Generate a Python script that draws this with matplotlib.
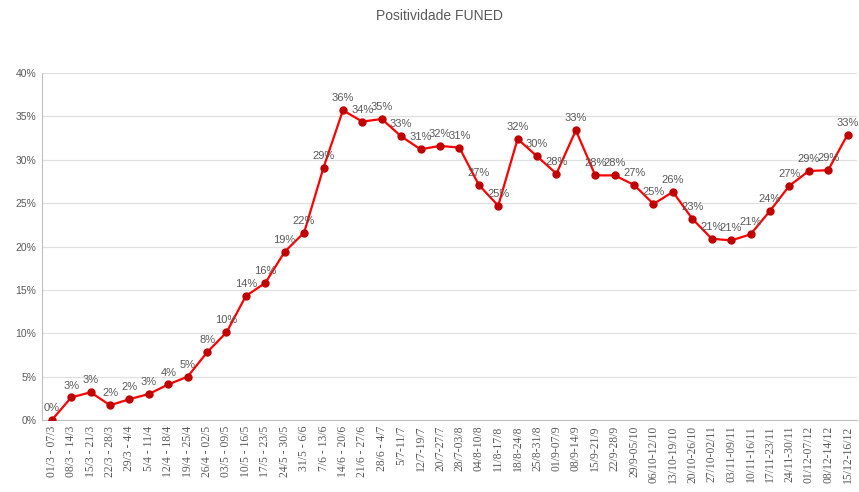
import matplotlib
matplotlib.use("Agg")
import matplotlib.pyplot as plt
from matplotlib.ticker import FuncFormatter, MultipleLocator

weeks = ["01/3 - 07/3", "08/3 - 14/3", "15/3 - 21/3", "22/3 - 28/3", "29/3 - 4/4",
         "5/4 - 11/4", "12/4 - 18/4", "19/4 - 25/4", "26/4 - 02/5", "03/5 - 09/5",
         "10/5 - 16/5", "17/5 - 23/5", "24/5 - 30/5", "31/5 - 6/6", "7/6 - 13/6",
         "14/6 - 20/6", "21/6 - 27/6", "28/6 - 4/7", "5/7-11/7", "12/7-19/7",
         "20/7-27/7", "28/7-03/8", "04/8-10/8", "11/8-17/8", "18/8-24/8",
         "25/8-31/8", "01/9-07/9", "08/9-14/9", "15/9-21/9", "22/9-28/9",
         "29/9-05/10", "06/10-12/10", "13/10-19/10", "20/10-26/10", "27/10-02/11",
         "03/11-09/11", "10/11-16/11", "17/11-23/11", "24/11-30/11", "01/12-07/12",
         "08/12-14/12", "15/12-16/12"]

positivity = [0.0, 2.6, 3.2, 1.7, 2.4, 3.0, 4.1, 5.0, 7.8, 10.1,
              14.3, 15.8, 19.4, 21.6, 29.1, 35.7, 34.4, 34.7, 32.7, 31.2,
              31.6, 31.4, 27.1, 24.7, 32.4, 30.4, 28.4, 33.4, 28.2, 28.2,
              27.1, 24.9, 26.3, 23.2, 20.9, 20.7, 21.4, 24.1, 27.0, 28.7,
              28.8, 32.9]

title = "Positividade FUNED"
text_color = "#595959"

fig = plt.figure(figsize=(8.59, 4.92), dpi=100)
ax = fig.add_axes([0.049, 0.1463, 0.949, 0.7053])

x = list(range(len(weeks)))
ax.plot(x, positivity, color="#FF0000", linewidth=1.6, marker="o",
        markersize=5, markerfacecolor="#C00000", markeredgecolor="#C00000", zorder=3)

for xi, v in zip(x, positivity):
    ax.annotate(f"{round(v)}%", (xi, v), xytext=(0, 5), textcoords="offset points",
                ha="center", va="bottom", fontsize=8, color=text_color,
                family="Liberation Sans")

ax.set_xlim(-0.5, len(weeks) - 0.5)
ax.set_ylim(0, 40)
ax.yaxis.set_major_locator(MultipleLocator(5))
ax.yaxis.set_major_formatter(FuncFormatter(lambda v, p: f"{int(v)}%"))
ax.set_xticks(x)
ax.set_xticklabels(weeks, rotation=90, fontsize=8.4, color=text_color, family="Liberation Serif")
for lab in ax.get_yticklabels():
    lab.set_fontsize(7.5)
    lab.set_color(text_color)
    lab.set_family("Liberation Sans")
ax.tick_params(axis="both", length=0, pad=4)
ax.grid(axis="y", color="#E0E0E0", linewidth=0.9)
ax.set_axisbelow(True)
for s in ["top", "right"]:
    ax.spines[s].set_visible(False)
ax.spines["left"].set_color("#BFBFBF")
ax.spines["bottom"].set_color("#BFBFBF")

fig.text(0.511, 0.968, title, ha="center", va="center", fontsize=10, color=text_color,
         family="Liberation Sans")

fig.savefig("out.png", dpi=100)
